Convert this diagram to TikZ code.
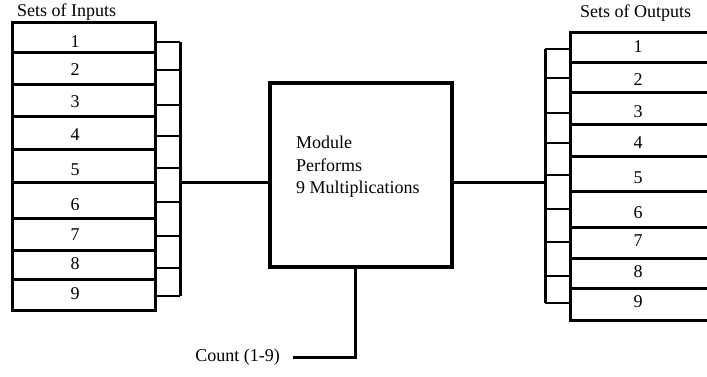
\documentclass[tikz,border=0pt]{standalone}
\usepackage{fontspec}
\setmainfont{Liberation Serif}
\begin{document}
\begin{tikzpicture}[x=1pt,y=-1pt,
  line/.style={line width=3pt},
  tick/.style={line width=2.6pt},
  lbl/.style={font=\fontsize{18}{22}\selectfont, inner sep=0pt},
  modbox/.style={draw, line width=3.2pt, minimum width=182pt, minimum height=184pt, inner sep=0pt}]
\useasboundingbox (0,0) rectangle (707,376);

% input table
\node[lbl, anchor=west] (intitle) at (17,12) {Sets of Inputs};
\draw[line] (12,22) rectangle (155,310);
\foreach \y in {52,84,116,149,182,218,250,279}
  \draw[line] (12,\y) -- (155,\y);
\foreach \n/\y in {1/42,2/70,3/102,4/135,5/170,6/205,7/235,8/264,9/294}
  \node[lbl] (in\n) at (75,\y) {\n};

% input bus
\coordinate (bint) at (180,42);
\coordinate (binb) at (180,296);
\draw[line] (bint) -- (binb);
\foreach \n/\y in {1/42,2/70,3/105,4/136,5/168,6/202,7/236,8/268,9/296}{
  \coordinate (ti\n) at (155,\y);
  \draw[tick] (ti\n) -- (ti\n -| bint);
}
\coordinate (bin) at (180,182);

% module
\node[modbox] (mod) at (361,175) {};
\node[lbl, anchor=north west, align=left, font=\fontsize{18}{22.5}\selectfont] (modtext) at (296,136)
  {Module\\Performs\\9 Multiplications};
\draw[line] (bin) -- (bin -| mod.west);

% output bus
\coordinate (bout) at (545,182);
\coordinate (boutt) at (545,49);
\coordinate (boutb) at (545,303);
\draw[line] (boutt) -- (boutb);
\draw[line] (mod.east |- bout) -- (bout);
\foreach \n/\y in {1/49,2/78,3/113,4/143,5/175,6/209,7/242,8/276,9/303}{
  \coordinate (to\n) at (570,\y);
  \draw[tick] (to\n -| boutt) -- (to\n);
}

% output table (runs off the right edge)
\node[lbl, anchor=west] (outtitle) at (580,13) {Sets of Outputs};
\draw[line] (712,32) -- (570,32) -- (570,320) -- (712,320);
\foreach \y in {62,92,124,156,191,227,258,288}
  \draw[line] (572,\y) -- (712,\y);
\foreach \n/\y in {1/47,2/80,3/112,4/143,5/178,6/213,7/241,8/272,9/302}
  \node[lbl] (out\n) at (638,\y) {\n};

% count input
\node[lbl, anchor=east] (count) at (280,357) {Count (1-9)};
\coordinate (cbend) at (355,357);
\draw[line] (mod.south -| cbend) -- (cbend) -- (293,357);
\end{tikzpicture}
\end{document}
